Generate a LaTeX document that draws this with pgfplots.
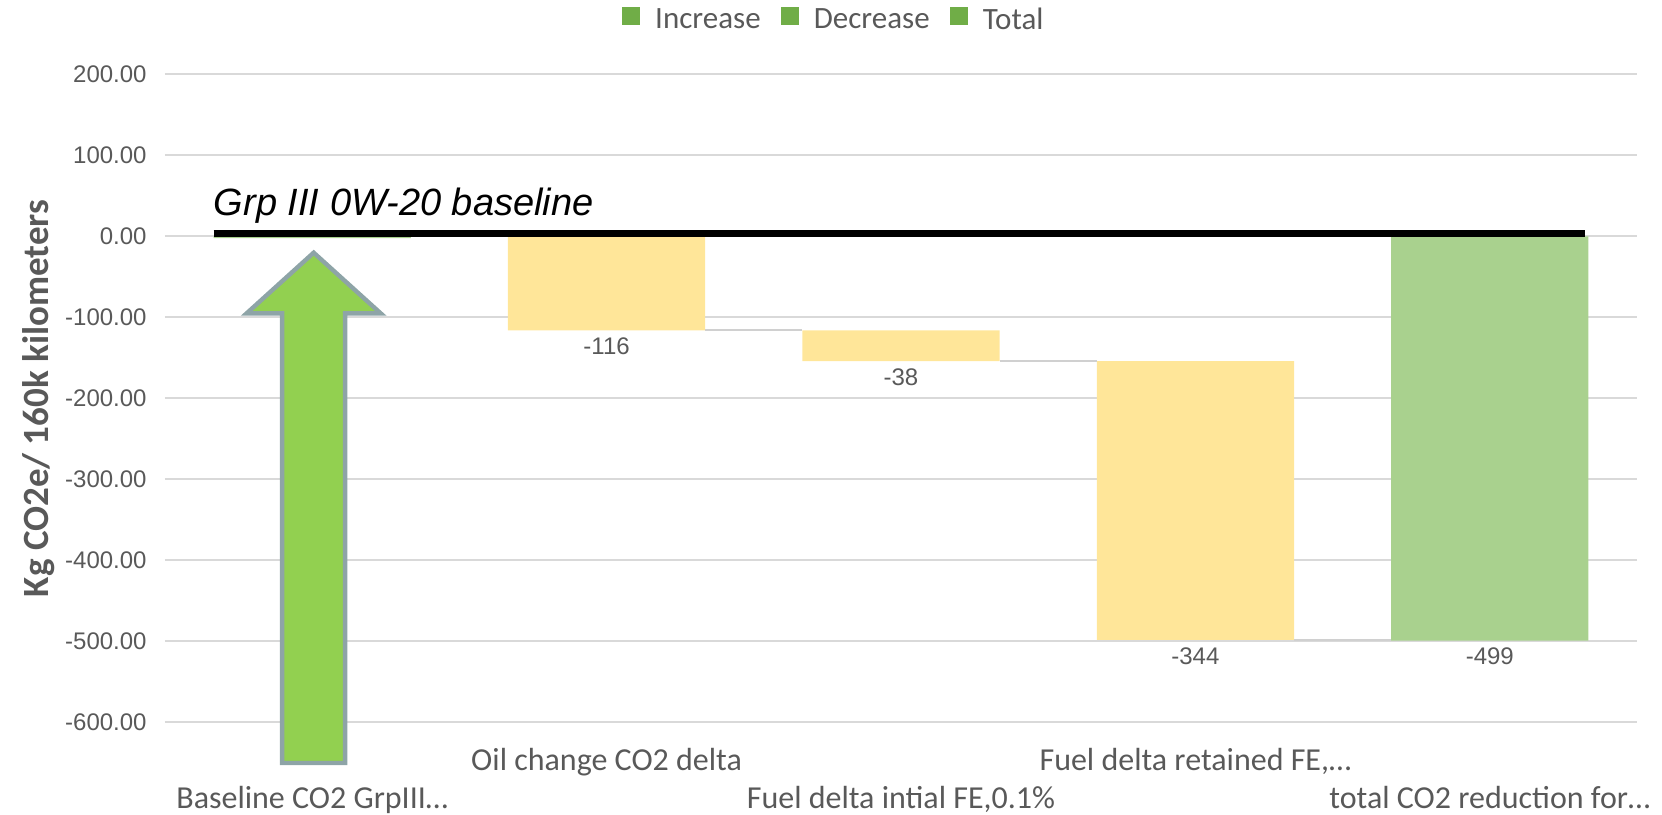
\documentclass[border=0pt]{standalone}
\usepackage{pgfplots}
\pgfplotsset{compat=1.18}
\usepackage{fontspec}
\setmainfont{Carlito}
\newfontfamily\arial{Liberation Sans}
\definecolor{txtgray}{HTML}{595959}
\definecolor{gridgray}{HTML}{D9D9D9}
\definecolor{conngray}{HTML}{D0D0D0}
\definecolor{baryellow}{HTML}{FFE699}
\definecolor{bargreen}{HTML}{A9D18E}
\definecolor{leggreen}{HTML}{70AD47}
\definecolor{arrowgreen}{HTML}{92D050}
\definecolor{arrowedge}{HTML}{8EA4A7}
\begin{document}
\begin{tikzpicture}
\useasboundingbox (-82.5pt,-46pt) rectangle (748.5pt,361.25pt);
\pgfplotsset{
  common/.style={scale only axis, width=736pt, height=324pt,
    xmin=-0.5, xmax=4.5, ymin=-600, ymax=200, enlargelimits=false,
    at={(0pt,0pt)}, anchor=south west},
}
% ---------- bars (waterfall via stacked bars with invisible base) ----------
\begin{axis}[common, ybar stacked, bar width=0.67,
  axis line style={draw=none}, major tick length=0pt,
  ytick={-600,-500,...,200},
  ymajorgrids, grid style={draw=gridgray, line width=1pt},
  /pgf/number format/fixed, /pgf/number format/fixed zerofill,
  /pgf/number format/precision=2, /pgf/number format/assume math mode=true,
  yticklabel style={font=\arial\fontsize{12}{14}\selectfont, text=txtgray,
    anchor=east, inner sep=0pt, xshift=-9pt},
  xtick={1,3},
  xticklabels={Oil change CO2 delta, {Fuel delta retained FE,…}},
  extra x ticks={0,2,4},
  extra x tick labels={Baseline CO2 GrpIII…, {Fuel delta intial FE,0.1\%}, total CO2 reduction for…},
  xticklabel style={anchor=base, yshift=-23.8pt, inner sep=0pt,
    font=\fontsize{16}{19}\selectfont, text=txtgray},
  extra x tick style={xticklabel style={yshift=-19.1pt}},
  ylabel={Kg CO2e/ 160k kilometers},
  ylabel style={at={(axis description cs:-0.0856,0.5)}, anchor=center,
    font=\bfseries\fontsize{18.5}{21}\selectfont, text=txtgray},
]
\addplot[draw=none, fill=none] coordinates {(0,0) (1,0) (2,-116) (3,-154) (4,0)};
\addplot[draw=none, fill=baryellow] coordinates {(0,0) (1,-116) (2,-38) (3,-344) (4,0)};
\addplot[draw=none, fill=bargreen] coordinates {(0,-2) (1,0) (2,0) (3,0) (4,-499)};
\end{axis}
% ---------- overlay: connectors, baseline, labels, arrow, legend ----------
\begin{axis}[common, hide axis, clip=false,
  legend columns=3,
  legend style={at={(axis description cs:0.4538,1.0843)}, anchor=center,
    draw=none, fill=none, font=\fontsize{15.5}{18}\selectfont,
    nodes={inner sep=0pt, text=txtgray},
    /tikz/every odd column/.append style={column sep=7.7pt},
    /tikz/every even column/.append style={column sep=10.2pt}},
  legend image code/.code={\fill[leggreen] (0pt,-2.2pt) rectangle (8.3pt,6.1pt);},
]
\addlegendimage{leggreen}\addlegendentry{Increase}
\addlegendimage{leggreen}\addlegendentry{Decrease}
\addlegendimage{leggreen}\addlegendentry{Total}
\addplot[forget plot, draw=conngray, line width=1pt] coordinates {(1.335,-116) (1.665,-116)};
\addplot[forget plot, draw=conngray, line width=1pt] coordinates {(2.335,-154) (2.665,-154)};
\addplot[forget plot, draw=conngray, line width=1pt] coordinates {(3.335,-498) (3.665,-498)};
\addplot[forget plot, draw=black, line width=3.3pt] coordinates {(-0.335,4) (4.325,4)};
\node[anchor=base west, inner sep=0pt, font=\arial\itshape\fontsize{19}{22}\selectfont]
  at (axis cs:-0.335,26) {Grp III 0W-20 baseline};
\addplot[forget plot, draw=none, mark=none, nodes near coords,
  point meta=explicit symbolic, nodes near coords align={anchor=center},
  every node near coord/.append style={font=\arial\fontsize{12}{14}\selectfont,
    text=txtgray, anchor=center, yshift=-8pt}]
  coordinates {(1,-116) [-116] (2,-154) [-38] (3,-498) [-344] (4,-499) [-499]};
\addplot[forget plot, fill=arrowgreen, draw=arrowedge, line width=2.2pt, line join=miter]
  coordinates {(0.005,-20) (0.233,-95) (0.112,-95) (0.112,-650) (-0.102,-650) (-0.102,-95) (-0.223,-95)} -- cycle;
\end{axis}
\end{tikzpicture}
\end{document}
